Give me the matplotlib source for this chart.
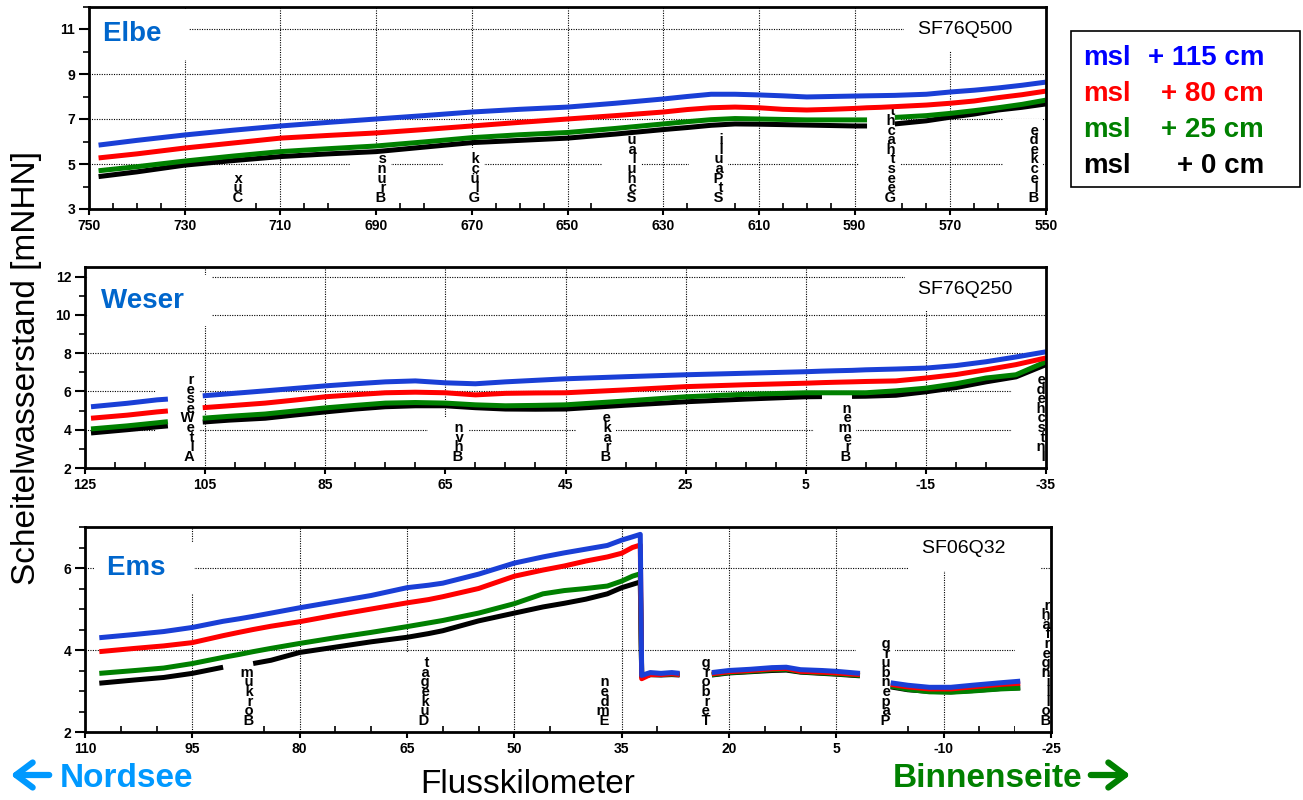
import numpy as np
import matplotlib
matplotlib.use("Agg")
import matplotlib.pyplot as plt
from matplotlib.ticker import FixedLocator, MultipleLocator
from matplotlib.patches import Rectangle, FancyArrowPatch

plt.rcParams['font.family'] = ['Liberation Sans', 'DejaVu Sans']
plt.rcParams['font.weight'] = 'bold'
plt.rcParams['axes.unicode_minus'] = False

nan = np.nan

# Szenarien (Meeresspiegel)
msl_text = ['+ 115 cm', '+ 80 cm', '+ 25 cm', '+ 0 cm']
linien_farben = ['#1a3fd6', '#ff0000', '#008000', '#000000']
text_farben = ['#0000ff', '#ff0000', '#008000', '#000000']

# ---------------- Elbe ----------------
elbe_km = [748, 740, 730, 720, 710, 700, 690, 680, 670, 660, 650, 640, 630, 625,
           620, 615, 610, 605, 600, 595, 590, 587.4, 584.5, 581.6, 575, 570, 565,
           560, 555, 550]
elbe_115 = [5.84, 6.05, 6.29, 6.50, 6.69, 6.85, 7.00, 7.15, 7.31, 7.43, 7.53, 7.70,
            7.89, 8.00, 8.10, 8.10, 8.07, 8.03, 7.98, 8.00, 8.02, 8.03, 8.04, 8.05,
            8.10, 8.20, 8.28, 8.38, 8.50, 8.64]
elbe_80 = [5.27, 5.45, 5.71, 5.93, 6.15, 6.27, 6.38, 6.53, 6.69, 6.85, 7.00, 7.15,
           7.31, 7.42, 7.50, 7.53, 7.50, 7.43, 7.40, 7.43, 7.47, 7.50, 7.52, 7.55,
           7.62, 7.70, 7.80, 7.95, 8.08, 8.24]
elbe_25 = [4.70, 4.88, 5.13, 5.35, 5.55, 5.68, 5.80, 5.98, 6.17, 6.30, 6.40, 6.58,
           6.78, 6.88, 6.97, 7.02, 7.00, 6.98, 6.96, 6.96, 6.96, 6.96, nan, 7.07,
           7.15, 7.25, 7.37, 7.50, 7.65, 7.84]
elbe_0 = [4.44, 4.65, 4.95, 5.15, 5.33, 5.45, 5.55, 5.75, 5.95, 6.05, 6.15, 6.33,
          6.53, 6.62, 6.72, 6.78, 6.77, 6.75, 6.73, 6.71, 6.69, 6.69, nan, 6.78,
          6.92, 7.08, 7.22, 7.40, 7.52, 7.67]
elbe_orte = ['Cux', 'Bruns', 'Glück', 'Schulau', 'StPauli', 'Geesthacht', 'Bleckede']
elbe_orte_km = [719, 689, 669.5, 636.7, 618.5, 582.6, 552.7]

# ---------------- Weser ----------------
weser_km = [124, 118, 113, 111.2, 109, 105.4, 101, 95, 90, 85, 80, 75, 70, 65, 60,
            55, 50, 45, 35, 25, 15, 5, 2.3, 0, -2.7, -5, -10, -15, -20, -25, -30, -35]
weser_115 = [5.20, 5.38, 5.56, 5.60, nan, 5.77, 5.88, 6.03, 6.16, 6.29, 6.40, 6.50,
             6.55, 6.45, 6.40, 6.50, 6.58, 6.66, 6.77, 6.87, 6.95, 7.03, 7.06, 7.08,
             7.10, 7.13, 7.17, 7.22, 7.35, 7.55, 7.80, 8.07]
weser_80 = [4.60, 4.76, 4.93, 4.98, nan, 5.15, 5.25, 5.39, 5.55, 5.72, 5.83, 5.93,
            5.96, 5.93, 5.82, 5.90, 5.92, 5.93, 6.08, 6.25, 6.35, 6.43, 6.46, 6.48,
            6.50, 6.52, 6.55, 6.70, 6.88, 7.13, 7.40, 7.75]
weser_25 = [4.04, 4.20, 4.36, 4.42, nan, 4.60, 4.70, 4.82, 4.98, 5.14, 5.27, 5.39,
            5.42, 5.39, 5.30, 5.25, 5.27, 5.30, 5.50, 5.72, 5.85, 5.93, 5.93, 5.93,
            5.93, 5.93, 6.03, 6.17, 6.40, 6.70, 6.87, 7.55]
weser_0 = [3.83, 4.00, 4.15, 4.20, nan, 4.40, 4.50, 4.60, 4.77, 4.93, 5.08, 5.20,
           5.25, 5.25, 5.15, 5.08, 5.07, 5.08, 5.28, 5.46, 5.60, 5.72, 5.73, nan,
           5.74, 5.75, 5.80, 5.98, 6.20, 6.50, 6.76, 7.40]
weser_orte = ['AlteWeser', 'Bhvn', 'Brake', 'Bremen', 'Intschede']
weser_orte_km = [107.7, 62.9, 38.3, -1.7, -34]

# ---------------- Ems ----------------
ems_km = [108, 103, 99, 95, 90.7, 88.5, 86.5, 84, 80, 75, 70, 65, 62, 60, 55, 50,
          46, 43, 40, 37, 35, 33.5, 32.4, 32.2, 31, 29.5, 28, 26.9, 24.5, 22.4, 20,
          17, 14, 12, 10, 7, 5, 1.7, 0, -2.6, -5, -8, -11, -14, -17.9, -20.7]
ems_115 = [4.30, 4.38, 4.45, 4.55, 4.70, 4.76, 4.82, 4.90, 5.03, 5.18, 5.33, 5.52,
           5.58, 5.63, 5.85, 6.12, 6.27, 6.37, 6.46, 6.55, 6.68, 6.76, 6.82, 3.38,
           3.45, 3.43, 3.45, 3.43, nan, 3.45, 3.50, 3.53, 3.57, 3.58, 3.52, 3.50,
           3.48, 3.43, nan, 3.20, 3.14, 3.09, 3.09, 3.14, 3.20, 3.24]
ems_80 = [3.96, 4.04, 4.10, 4.18, 4.35, 4.43, 4.50, 4.58, 4.69, 4.85, 5.00, 5.15,
          5.23, 5.30, 5.50, 5.80, 5.95, 6.05, 6.17, 6.27, 6.36, 6.50, 6.56, 3.30,
          3.40, 3.40, 3.42, 3.40, nan, 3.42, 3.47, 3.50, 3.54, 3.55, 3.48, 3.46,
          3.44, 3.40, nan, 3.16, 3.10, 3.05, 3.05, 3.10, 3.16, 3.19]
ems_25 = [3.43, 3.50, 3.56, 3.67, 3.82, 3.89, 3.96, 4.04, 4.16, 4.30, 4.43, 4.57,
          4.66, 4.72, 4.90, 5.13, 5.37, 5.45, 5.50, 5.56, 5.68, 5.80, 5.86, 3.35,
          3.40, 3.40, 3.41, 3.40, nan, 3.40, 3.45, 3.48, 3.52, 3.53, 3.47, 3.44,
          3.42, 3.38, nan, 3.12, 3.04, 2.98, 2.97, 3.00, 3.05, 3.07]
ems_0 = [3.19, 3.27, 3.33, 3.43, 3.58, nan, 3.67, 3.75, 3.94, 4.07, 4.20, 4.31,
         4.40, 4.47, 4.71, 4.90, 5.05, 5.14, 5.24, 5.37, 5.52, 5.60, 5.66, 3.35,
         3.40, 3.39, 3.40, 3.39, nan, 3.39, 3.44, 3.47, 3.50, 3.51, 3.46, 3.43,
         3.41, 3.37, nan, 3.10, 3.03, 2.99, 2.98, 3.01, 3.06, 3.08]
ems_orte = ['Borkum', 'Dukegat', 'Emden', 'Terborg', 'Papenburg', 'Bollingerfähr']
ems_orte_km = [87.2, 62.6, 37.5, 23.4, -1.8, -24.2]

W, H = 1303, 800
fig = plt.figure(figsize=(W / 100, H / 100), dpi=100)


def ax_px(left, right, top, bottom):
    return fig.add_axes([left / W, 1 - bottom / H, (right - left) / W, (bottom - top) / H])


def ortslabel(ax, name, km):
    # senkrecht gestapelte Buchstaben, weisser Kasten nach links verbreitert
    stapel = "\n".join("     " + c for c in reversed(name))
    ax.annotate(stapel, xy=(km, 0), xycoords=('data', 'axes fraction'),
                xytext=(4, 3), textcoords='offset points', ha='right', va='bottom',
                multialignment='right', fontsize=10.5, linespacing=0.6, zorder=1.8,
                annotation_clip=False,
                bbox=dict(boxstyle='square,pad=0.3', fc='white', ec='none'))


def panel(ax, km, reihen, xlim, xticks, ylim, yticks, ymin, name, name_pos, sf, sf_pos,
          orte, orte_km):
    for werte, farbe in list(zip(reihen, linien_farben))[::-1]:
        ax.plot(km, werte, color=farbe, lw=3.6, solid_capstyle='butt', zorder=2)
    ax.set_xlim(*xlim)
    ax.set_ylim(*ylim)
    ax.xaxis.set_major_locator(FixedLocator(xticks))
    ax.xaxis.set_minor_locator(MultipleLocator(5))
    ax.yaxis.set_major_locator(FixedLocator(yticks))
    ax.yaxis.set_minor_locator(MultipleLocator(ymin))
    ax.grid(True, which='major', color='black', linestyle=(0, (1, 1.2)), linewidth=0.8)
    for s in ax.spines.values():
        s.set_linewidth(2)
    ax.tick_params(axis='y', which='major', direction='out', length=7, width=1.5,
                   labelsize=10, pad=3)
    ax.tick_params(axis='y', which='minor', direction='out', length=4, width=1.2)
    ax.tick_params(axis='x', which='major', direction='out', length=4, width=1.5,
                   labelsize=10, pad=3)
    ax.tick_params(axis='x', which='minor', direction='in', length=4, width=1.2)
    ax.text(name_pos[0], name_pos[1], name + "  ", transform=ax.transAxes, fontsize=20,
            color='#0066cc', ha='left', va='center', zorder=1.8,
            bbox=dict(boxstyle='square,pad=0.45', fc='white', ec='none'))
    ax.text(sf_pos[0], sf_pos[1], sf + "    ", transform=ax.transAxes, fontsize=14,
            fontweight='normal', ha='left', va='center', zorder=1.8,
            bbox=dict(boxstyle='square,pad=0.7', fc='white', ec='none'))
    for name_ort, k in zip(orte, orte_km):
        ortslabel(ax, name_ort, k)


ax1 = ax_px(89, 1046, 6.5, 209)
panel(ax1, elbe_km, [elbe_115, elbe_80, elbe_25, elbe_0], (750, 550),
      np.arange(550, 751, 20), (3, 12), [3, 5, 7, 9, 11], 1, 'Elbe', (0.0146, 0.862),
      'SF76Q500', (0.866, 0.887), elbe_orte, elbe_orte_km)

ax2 = ax_px(85, 1046, 267, 468)
panel(ax2, weser_km, [weser_115, weser_80, weser_25, weser_0], (125, -35),
      np.arange(-35, 126, 20), (2, 12.5), [2, 4, 6, 8, 10, 12], 1, 'Weser',
      (0.0166, 0.831), 'SF76Q250', (0.867, 0.89), weser_orte, weser_orte_km)

ax3 = ax_px(85, 1051, 527, 732)
panel(ax3, ems_km, [ems_115, ems_80, ems_25, ems_0], (110, -25),
      np.arange(-25, 111, 15), (2, 7), [2, 4, 6], 0.5, 'Ems', (0.0228, 0.80),
      'SF06Q32', (0.866, 0.893), ems_orte, ems_orte_km)

# Legende
fig.add_artist(Rectangle((1071 / W, 1 - 187 / H), 229 / W, 156 / H,
                         transform=fig.transFigure, fill=False, ec='black', lw=1.2))
for i, (t, c) in enumerate(zip(msl_text, text_farben)):
    y = 1 - (58 + i * 36) / H
    fig.text(1083 / W, y, 'msl', color=c, fontsize=20, va='center')
    fig.text(1264 / W, y, t, color=c, fontsize=20, va='center', ha='right')

fig.text(0.02, 0.54, 'Scheitelwasserstand [mNHN]', rotation=90, fontsize=24,
         fontweight='normal', ha='center', va='center')
fig.text(0.405, 1 - 793 / H, 'Flusskilometer', fontsize=24, fontweight='normal',
         ha='center', va='baseline')
fig.text(60 / W, 1 - 787 / H, 'Nordsee', fontsize=24, color='#0099ff', ha='left',
         va='baseline')
fig.text(893 / W, 1 - 787 / H, 'Binnenseite', fontsize=24, color='#008000', ha='left',
         va='baseline')

# Richtungspfeile
pfeil = '->,head_length=0.6,head_width=0.45'
fig.add_artist(FancyArrowPatch((52 / W, 1 - 775 / H), (8 / W, 1 - 775 / H),
                               transform=fig.transFigure, arrowstyle=pfeil,
                               mutation_scale=20, lw=4.5, color='#0099ff'))
fig.add_artist(FancyArrowPatch((1088 / W, 1 - 775 / H), (1133 / W, 1 - 775 / H),
                               transform=fig.transFigure, arrowstyle=pfeil,
                               mutation_scale=20, lw=4.5, color='#008000'))

fig.savefig('out.png', dpi=100)
